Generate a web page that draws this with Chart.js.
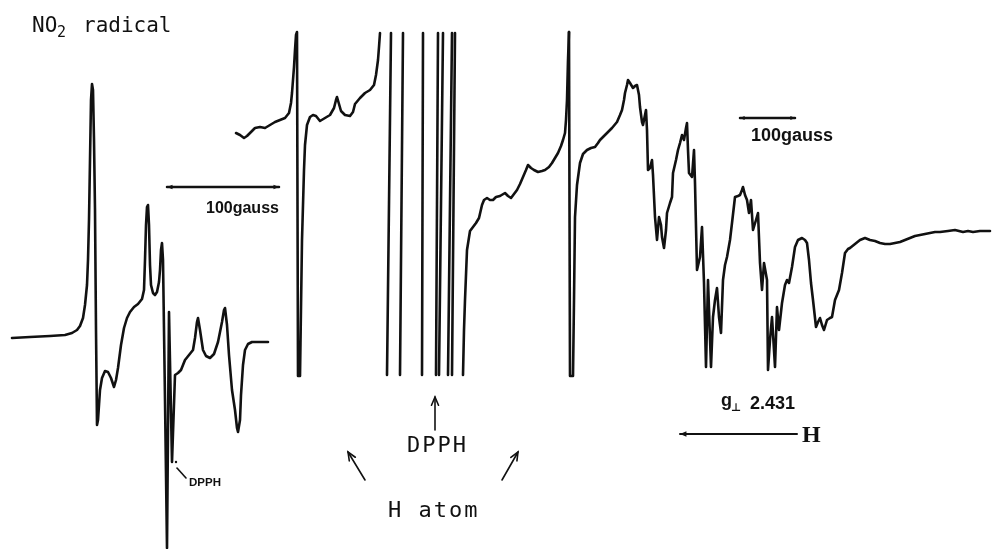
<!DOCTYPE html>
<html>
<head>
<meta charset="utf-8">
<script src="https://cdn.jsdelivr.net/npm/chart.js@4.4.1/dist/chart.umd.min.js"></script>
<style>
  html, body { margin: 0; padding: 0; background: #fff; }
  canvas { display: block; }
</style>
</head>
<body>
<canvas id="esrChart" width="992" height="549"></canvas>
<script>
// field position (recorder units) , pen position (measured down from top of paper)
// null pen = pen off scale, line broken
const no2Trace = [
  [12,338],[30,337],[50,336],[65,335],[72,333],[77,330],[80,326],[83,318],[85,305],[87,285],[88,260],
  [89,220],[90,160],[91,100],[92,84],[93,90],[94,140],[95,210],[96,330],[97,425],[98,420],[100,390],
  [102,378],[105,371],[108,372],[111,378],[114,387],[116,380],[118,368],[121,345],[124,328],[127,318],
  [130,312],[134,307],[138,304],[142,299],[144,290],[145,260],[146,225],[147,207],[148,205],[149,225],
  [150,265],[151,285],[153,293],[155,295],[157,292],[159,282],[160,270],[161,250],[162,243],[163,260],
  [165,400],[167,548],[169,312],[172,462],[175,375],[178,373],[181,370],[185,360],[189,355],[193,350],
  [195,338],[197,322],[198,318],[200,330],[203,350],[206,356],[210,358],[214,354],[218,342],[222,322],
  [224,310],[225,308],[227,325],[229,355],[232,390],[235,410],[237,428],[238,432],[240,420],[241,395],
  [243,365],[245,350],[248,344],[252,342],[258,342],[268,342]
];

const hAtomTrace = [
  [236,133],[240,135],[244,138],[247,136],[250,133],[255,128],[260,127],[265,128],[270,125],[275,122],
  [280,120],[285,118],[289,113],[291,103],[292,93],[293,80],[294,67],[295,50],[296,35],[297,32],
  [298,376],[300,376],[302,240],[304,170],[305,145],[307,125],[310,117],[313,115],[316,116],[320,121],
  [325,118],[330,115],[334,108],[336,100],[337,97],[339,104],[341,111],[345,115],[350,116],[353,112],
  [355,104],[360,98],[365,93],[370,90],[374,85],[376,75],[378,60],[379,47],[380,33],
  [385,null],[391,33],[387,375],[395,null],[403,33],[400,375],[410,null],[423,33],[422,375],
  [430,null],[438,33],[436,375],[440,null],[443,33],[439,375],[445,null],[452,33],[448,375],
  [450,null],[455,33],[452,375],[458,null],
  [463,375],[464,330],[465,300],[467,250],[470,231],[473,227],[476,223],[479,218],[482,205],[484,200],
  [487,198],[490,200],[493,200],[496,197],[500,196],[505,193],[508,196],[511,198],[514,194],[517,190],
  [520,184],[523,177],[526,170],[528,165],[531,168],[534,170],[538,172],[542,171],[545,170],[549,167],
  [552,163],[555,158],[558,153],[561,146],[563,140],[565,133],[566,120],[567,100],[568,60],[569,32]
];

const gPerpTrace = [
  [569,32],[570,376],[573,376],[574,300],[575,217],[577,185],[580,163],[583,154],[587,150],[591,148],
  [595,147],[598,143],[600,140],[604,136],[607,133],[612,128],[617,122],[620,115],[622,110],[624,100],
  [625,93],[627,85],[628,80],[630,83],[633,88],[635,86],[637,85],[639,95],[640,107],[642,122],[643,125],
  [645,115],[646,110],[647,130],[648,170],[650,168],[652,160],[653,175],[655,217],[657,240],[659,217],
  [661,225],[662,237],[664,248],[666,230],[667,213],[670,203],[672,197],[673,173],[676,160],[678,150],
  [680,143],[682,135],[684,140],[686,128],[687,123],[688,150],[689,173],[692,177],[694,150],[695,183],
  [697,270],[700,257],[702,227],[704,283],[706,367],[708,280],[711,367],[713,317],[715,300],[717,288],
  [719,317],[721,333],[723,280],[725,265],[727,257],[730,240],[732,223],[735,197],[738,196],[740,195],
  [742,190],[743,187],[745,195],[747,200],[749,213],[751,200],[753,230],[756,220],[758,213],[760,263],
  [762,290],[764,263],[767,280],[768,370],[770,340],[772,317],[775,367],[777,307],[779,330],[782,303],
  [785,285],[787,280],[789,283],[792,267],[795,247],[798,240],[802,238],[805,240],[807,243],[809,260],
  [811,283],[813,300],[816,327],[818,322],[820,318],[822,325],[824,330],[827,320],[830,318],[832,317],
  [835,300],[839,290],[842,273],[845,253],[848,249],[850,248],[855,244],[860,240],[865,238],[870,240],
  [875,241],[880,243],[885,244],[890,244],[895,243],[900,242],[905,240],[910,238],[915,236],[920,235],
  [925,234],[930,233],[935,232],[940,232],[948,231],[955,230],[963,232],[968,231],[973,232],[980,231],
  [990,231]
];

const mono = '"DejaVu Sans Mono", monospace';
const sans = '"Liberation Sans", Arial, sans-serif';

// labels and arrows, placed in chart units
const notes = [
  {text: 'NO', x: 32, y: 32, font: '21px ' + mono},
  {text: '2', x: 57, y: 37, font: '15px ' + mono},
  {text: 'radical', x: 83, y: 32, font: '21px ' + mono},
  {text: '100gauss', x: 206, y: 213, font: 'bold 16px ' + sans},
  {text: '100gauss', x: 751, y: 141, font: 'bold 18px ' + sans},
  {text: 'DPPH', x: 189, y: 486, font: 'bold 11.5px ' + sans},
  {text: 'DPPH', x: 407, y: 452, font: '22px ' + mono, spacing: '2px'},
  {text: 'H atom', x: 388, y: 517, font: '22px ' + mono, spacing: '2px'},
  {text: 'g', x: 721, y: 406, font: 'bold 18px ' + sans},
  {text: '\u22a5', x: 731, y: 411, font: 'bold 11px "DejaVu Sans", sans-serif'},
  {text: '2.431', x: 750, y: 409, font: 'bold 18px ' + sans},
  {text: 'H', x: 802, y: 442, font: 'bold 24px "Liberation Serif", serif'}
];

const arrows = [
  {from: [167,187], to: [279,187], width: 2.5, heads: 'both', filled: true, size: 6},
  {from: [740,118], to: [795,118], width: 2.5, heads: 'both', filled: true, size: 5},
  {from: [797,434], to: [680,434], width: 2, heads: 'end', filled: true, size: 7},
  {from: [435,430], to: [435,397], width: 1.6, heads: 'end', filled: false, size: 9},
  {from: [365,480], to: [348,452], width: 1.6, heads: 'end', filled: false, size: 9},
  {from: [502,480], to: [518,452], width: 1.6, heads: 'end', filled: false, size: 9},
  {from: [177,468], to: [186,478], width: 1.6, heads: 'none', filled: false, size: 0}
];

const paperPlugin = {
  id: 'paper',
  beforeDraw(chart) {
    const c = chart.ctx;
    c.save();
    c.fillStyle = '#fff';
    c.fillRect(0, 0, chart.width, chart.height);
    c.restore();
  },
  afterDraw(chart) {
    const c = chart.ctx;
    const xs = chart.scales.x, ys = chart.scales.y;
    const px = v => xs.getPixelForValue(v), py = v => ys.getPixelForValue(v);
    c.save();
    c.fillStyle = '#111';
    c.strokeStyle = '#111';
    c.textBaseline = 'alphabetic';
    notes.forEach(n => {
      c.font = n.font;
      c.letterSpacing = n.spacing || '0px';
      c.fillText(n.text, px(n.x), py(n.y));
    });
    c.letterSpacing = '0px';
    const head = (x0, y0, x1, y1, a) => {
      const ang = Math.atan2(y1 - y0, x1 - x0);
      const s = a.size;
      const p1 = [x1 - s * Math.cos(ang - 0.4), y1 - s * Math.sin(ang - 0.4)];
      const p2 = [x1 - s * Math.cos(ang + 0.4), y1 - s * Math.sin(ang + 0.4)];
      c.beginPath();
      if (a.filled) {
        c.moveTo(x1, y1); c.lineTo(p1[0], p1[1]); c.lineTo(p2[0], p2[1]); c.closePath(); c.fill();
      } else {
        c.moveTo(p1[0], p1[1]); c.lineTo(x1, y1); c.lineTo(p2[0], p2[1]); c.stroke();
      }
    };
    arrows.forEach(a => {
      const x0 = px(a.from[0]), y0 = py(a.from[1]), x1 = px(a.to[0]), y1 = py(a.to[1]);
      c.lineWidth = a.width;
      c.lineCap = 'round';
      c.beginPath(); c.moveTo(x0, y0); c.lineTo(x1, y1); c.stroke();
      if (a.heads === 'end' || a.heads === 'both') head(x0, y0, x1, y1, a);
      if (a.heads === 'both') head(x1, y1, x0, y0, a);
    });
    // DPPH marker dot
    c.beginPath(); c.arc(px(176), py(462), 1.2, 0, Math.PI * 2); c.fill();
    c.restore();
  }
};

const traceStyle = {
  showLine: true,
  borderColor: '#111',
  borderWidth: 2.6,
  pointRadius: 0,
  tension: 0,
  spanGaps: false,
  borderJoinStyle: 'round',
  borderCapStyle: 'round'
};

new Chart(document.getElementById('esrChart'), {
  type: 'scatter',
  data: {
    datasets: [
      Object.assign({label: 'NO2 radical', data: no2Trace}, traceStyle),
      Object.assign({label: 'H atom', data: hAtomTrace}, traceStyle),
      Object.assign({label: 'g perp', data: gPerpTrace}, traceStyle)
    ]
  },
  options: {
    responsive: false,
    animation: false,
    layout: {padding: 0},
    plugins: {legend: {display: false}, tooltip: {enabled: false}},
    scales: {
      x: {type: 'linear', min: 0, max: 992, display: false},
      y: {type: 'linear', min: 0, max: 549, reverse: true, display: false}
    }
  },
  plugins: [paperPlugin]
});
</script>
</body>
</html>
